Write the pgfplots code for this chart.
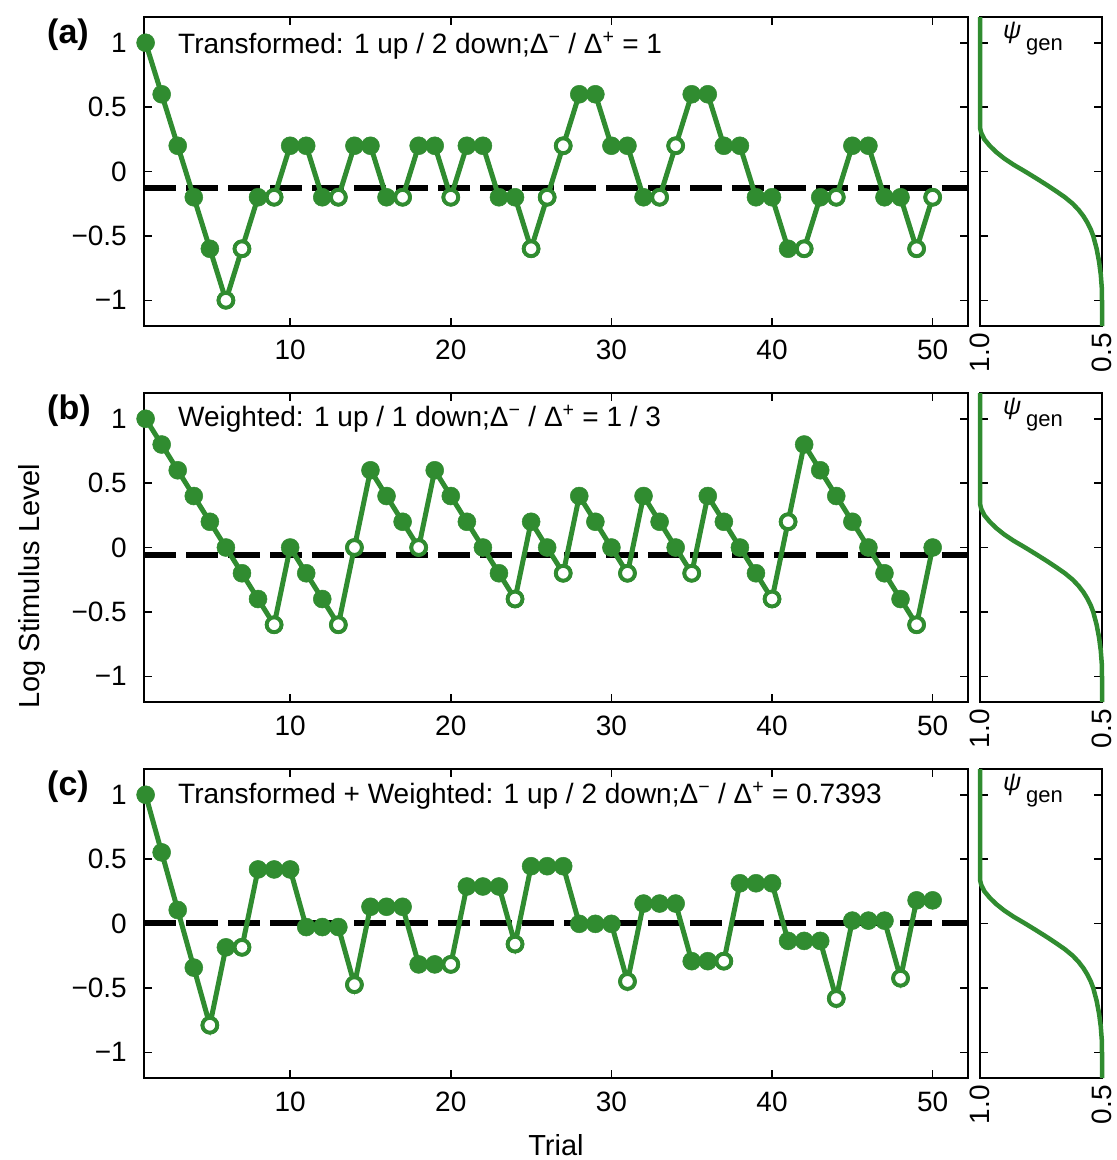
\documentclass[border=0pt]{standalone}
\usepackage{pgfplots}
\pgfplotsset{compat=1.18}
\usepackage{pgfplotstable}
\usepackage{fontspec}
\setmainfont{Liberation Sans}
\definecolor{pgreen}{RGB}{48,140,48}
\newcommand\fs{\fontsize{28}{33}\selectfont}

\pgfplotstableread{
t y c
1 1.0 1
2 0.6 1
3 0.2 1
4 -0.2 1
5 -0.6 1
6 -1.0 0
7 -0.6 0
8 -0.2 1
9 -0.2 0
10 0.2 1
11 0.2 1
12 -0.2 1
13 -0.2 0
14 0.2 1
15 0.2 1
16 -0.2 1
17 -0.2 0
18 0.2 1
19 0.2 1
20 -0.2 0
21 0.2 1
22 0.2 1
23 -0.2 1
24 -0.2 1
25 -0.6 0
26 -0.2 0
27 0.2 0
28 0.6 1
29 0.6 1
30 0.2 1
31 0.2 1
32 -0.2 1
33 -0.2 0
34 0.2 0
35 0.6 1
36 0.6 1
37 0.2 1
38 0.2 1
39 -0.2 1
40 -0.2 1
41 -0.6 1
42 -0.6 0
43 -0.2 1
44 -0.2 0
45 0.2 1
46 0.2 1
47 -0.2 1
48 -0.2 1
49 -0.6 0
50 -0.2 0
}\dataA

\pgfplotstableread{
t y c
1 1.0 1
2 0.8 1
3 0.6 1
4 0.4 1
5 0.2 1
6 0.0 1
7 -0.2 1
8 -0.4 1
9 -0.6 0
10 0.0 1
11 -0.2 1
12 -0.4 1
13 -0.6 0
14 0.0 0
15 0.6 1
16 0.4 1
17 0.2 1
18 0.0 0
19 0.6 1
20 0.4 1
21 0.2 1
22 0.0 1
23 -0.2 1
24 -0.4 0
25 0.2 1
26 0.0 1
27 -0.2 0
28 0.4 1
29 0.2 1
30 0.0 1
31 -0.2 0
32 0.4 1
33 0.2 1
34 0.0 1
35 -0.2 0
36 0.4 1
37 0.2 1
38 0.0 1
39 -0.2 1
40 -0.4 0
41 0.2 0
42 0.8 1
43 0.6 1
44 0.4 1
45 0.2 1
46 0.0 1
47 -0.2 1
48 -0.4 1
49 -0.6 0
50 0.0 1
}\dataB

\pgfplotstableread{
t y c
1 1.0 1
2 0.5525 1
3 0.105 1
4 -0.3425 1
5 -0.79 0
6 -0.185 1
7 -0.185 0
8 0.42 1
9 0.42 1
10 0.42 1
11 -0.0275 1
12 -0.0275 1
13 -0.0275 1
14 -0.475 0
15 0.13 1
16 0.13 1
17 0.13 1
18 -0.3175 1
19 -0.3175 1
20 -0.3175 0
21 0.2875 1
22 0.2875 1
23 0.2875 1
24 -0.16 0
25 0.445 1
26 0.445 1
27 0.445 1
28 -0.0025 1
29 -0.0025 1
30 -0.0025 1
31 -0.45 0
32 0.155 1
33 0.155 1
34 0.155 1
35 -0.2925 1
36 -0.2925 1
37 -0.2925 0
38 0.3125 1
39 0.3125 1
40 0.3125 1
41 -0.135 1
42 -0.135 1
43 -0.135 1
44 -0.5825 0
45 0.0225 1
46 0.0225 1
47 0.0225 1
48 -0.425 0
49 0.18 1
50 0.18 1
}\dataC

\pgfplotstableread{
p y
1.000 1.2
1.000 0.34
0.995 0.30
0.982 0.25
0.960 0.20
0.933 0.15
0.900 0.10
0.860 0.05
0.815 0.00
0.772 -0.05
0.730 -0.10
0.690 -0.15
0.652 -0.20
0.620 -0.25
0.595 -0.30
0.575 -0.35
0.559 -0.40
0.546 -0.45
0.536 -0.50
0.522 -0.60
0.512 -0.70
0.505 -0.80
0.501 -0.90
0.500 -1.00
0.500 -1.2
}\psig

\pgfplotsset{
  base/.style={scale only axis, height=309pt, ymin=-1.2, ymax=1.2,
    ytick={-1,-0.5,0,0.5,1},
    tick align=inside, major tick length=8pt,
    axis line style={line width=1.5pt},
    tick style={black, line width=1.5pt},
    tick label style={font=\fs},
    clip=false},
  mainax/.style={base, width=824pt, xmin=0.9, xmax=52.2,
    xtick={10,20,30,40,50}, xticklabels={10,20,30,40,50},
    yticklabels={−1,−0.5,0,0.5,1},
    xticklabel style={inner sep=0pt, yshift=-14pt},
    yticklabel style={inner sep=0pt, xshift=-17pt}},
  sideax/.style={base, width=122pt, xmin=0.5, xmax=1.0, x dir=reverse,
    xtick={0.5,1}, xticklabels={0.5,1.0}, yticklabels={},
    xticklabel style={yshift=-7pt, rotate=90, anchor=east, inner sep=0pt}},
  stair/.style={pgreen, line width=5pt, mark=*, mark size=9pt,
    mark options={solid, fill=pgreen, line width=0.5pt}},
  openm/.style={only marks, mark=*, mark size=7.4pt,
    mark options={solid, fill=white, draw=pgreen, line width=3.9pt},
    restrict expr to domain={\thisrow{c}}{-0.5:0.5}},
  dashl/.style={black, line width=6pt, dash pattern=on 32pt off 10pt},
  psil/.style={pgreen, line width=4.5pt},
}

\begin{document}
\begin{tikzpicture}
\useasboundingbox (0pt,0pt) rectangle (1117pt,-1160pt);

% ---- panel (a)
\begin{axis}[mainax, at={(144pt,-326pt)}, anchor=south west]
\addplot[dashl] coordinates {(0.9,-0.125) (52.2,-0.125)};
\addplot[stair] table[x=t,y=y] {\dataA};
\addplot[openm] table[x=t,y=y] {\dataA};
\end{axis}
\begin{axis}[sideax, at={(980pt,-326pt)}, anchor=south west]
\addplot[psil] table[x=p,y=y] {\psig};
\end{axis}

% ---- panel (b)
\begin{axis}[mainax, at={(144pt,-702pt)}, anchor=south west]
\addplot[dashl] coordinates {(0.9,-0.06) (52.2,-0.06)};
\addplot[stair] table[x=t,y=y] {\dataB};
\addplot[openm] table[x=t,y=y] {\dataB};
\end{axis}
\begin{axis}[sideax, at={(980pt,-702pt)}, anchor=south west]
\addplot[psil] table[x=p,y=y] {\psig};
\end{axis}

% ---- panel (c)
\begin{axis}[mainax, at={(144pt,-1078pt)}, anchor=south west]
\addplot[dashl] coordinates {(0.9,0.005) (52.2,0.005)};
\addplot[stair] table[x=t,y=y] {\dataC};
\addplot[openm] table[x=t,y=y] {\dataC};
\end{axis}
\begin{axis}[sideax, at={(980pt,-1078pt)}, anchor=south west]
\addplot[psil] table[x=p,y=y] {\psig};
\end{axis}

% ---- texts
\node[anchor=base west, inner sep=0pt, font=\fontsize{34}{38}\selectfont\bfseries] at (47pt,-43pt) {(a)};
\node[anchor=base west, inner sep=0pt, font=\fontsize{34}{38}\selectfont\bfseries] at (47pt,-419pt) {(b)};
\node[anchor=base west, inner sep=0pt, font=\fontsize{34}{38}\selectfont\bfseries] at (47pt,-795pt) {(c)};

\node[anchor=base west, inner sep=0pt, font=\fs] at (178pt,-53pt)
  {Transformed: 1 up / 2 down;Δ\textsuperscript{−} / Δ\textsuperscript{+} = 1};
\node[anchor=base west, inner sep=0pt, font=\fs] at (178pt,-426pt)
  {Weighted: 1 up / 1 down;Δ\textsuperscript{−} / Δ\textsuperscript{+} = 1 / 3};
\node[anchor=base west, inner sep=0pt, font=\fs] at (178pt,-803pt)
  {Transformed + Weighted: 1 up / 2 down;Δ\textsuperscript{−} / Δ\textsuperscript{+} = 0.7393};

\foreach \dy in {0,376,752}{
  \node[anchor=base west, inner sep=0pt, font=\fontsize{25}{28}\selectfont\itshape] at (1003pt,{-38pt-\dy pt}) {ψ};
  \node[anchor=base west, inner sep=0pt, font=\fontsize{22}{26}\selectfont] at (1026pt,{-50pt-\dy pt}) {gen};
}

\node[rotate=90, inner sep=0pt, font=\fontsize{29}{33}\selectfont] at (32pt,-586pt) {Log Stimulus Level};
\node[anchor=base, inner sep=0pt, font=\fontsize{29}{33}\selectfont] at (556pt,-1155pt) {Trial};
\end{tikzpicture}
\end{document}
